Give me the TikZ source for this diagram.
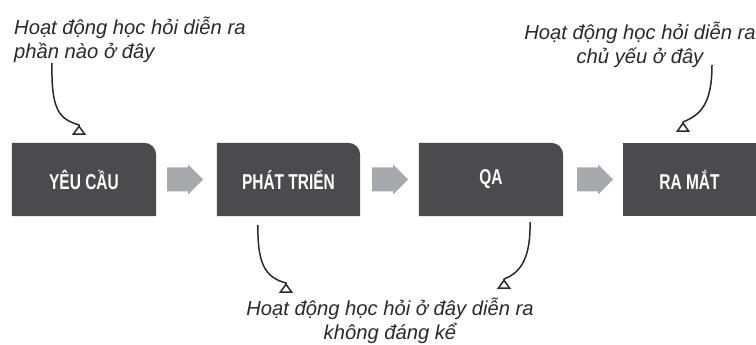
\documentclass[tikz,border=0pt]{standalone}
\usepackage{fontspec}
\setmainfont{Liberation Sans}
\newfontfamily\boxfont[FakeStretch=0.72]{Liberation Sans}
\usetikzlibrary{arrows.meta,backgrounds}
\definecolor{boxgray}{HTML}{4B4B4D}
\definecolor{arrgray}{HTML}{A7A9AC}
\definecolor{txtgray}{HTML}{2A2A2A}
\tikzset{
  stage/.style={inner sep=0pt, minimum height=73pt, text=white,
    font=\boxfont\bfseries\fontsize{21.5}{24}\selectfont},
  note/.style={inner sep=0pt, text=txtgray,
    font=\itshape\fontsize{20.2}{24}\selectfont},
  curv/.style={draw=txtgray, line width=1.5pt,
    -{Triangle[open,reversed,length=10pt,width=14pt,line width=1.5pt]}},
  garrow/.pic={\fill[arrgray] (0,-12) -- (21,-12) -- (21,-15) -- (36,0)
     -- (21,15) -- (21,12) -- (0,12) -- cycle;}
}
\begin{document}
\begin{tikzpicture}[x=1pt,y=1pt]
\useasboundingbox (0,0) rectangle (756,345);
% stages
\node[stage, minimum width=144pt] (b1) at (84,165.5) {YÊU CẦU};
\node[stage, minimum width=143pt] (b2) at (288.5,165.5) {PHÁT TRIỂN};
\node[stage, minimum width=144pt] (b3) at (491,165.5) {QA};
\node[stage, minimum width=133pt] (b4) at (689.5,165.5) {RA MẮT};
\begin{scope}[on background layer]
  \foreach \b in {b1,b2,b3}{
    \fill[boxgray] (\b.south west) -- (\b.north west) -- ([xshift=-12pt]\b.north east)
      arc[start angle=90,end angle=0,radius=12pt] -- (\b.south east) -- cycle;
  }
  \fill[boxgray] (b4.south west) rectangle (b4.north east);
\end{scope}
% block arrows
\path ([xshift=11pt]b1.east) pic {garrow};
\path ([xshift=12pt]b2.east) pic {garrow};
\path ([xshift=14pt]b3.east) pic {garrow};
% notes
\node[note, anchor=north west, align=left] (t1) at (14,328.5)
  {Hoạt động học hỏi diễn ra\\phần nào ở đây};
\node[note, anchor=north, align=center] (t2) at (640,323.5)
  {Hoạt động học hỏi diễn ra\\chủ yếu ở đây};
\node[note, anchor=north, align=center] (t3) at (390,47.5)
  {Hoạt động học hỏi ở đây diễn ra\\không đáng kể};
% connector ends
\coordinate (s1) at (52,282);
\coordinate (e1) at (79,210);
\coordinate (s2) at (712,280);
\coordinate (e2) at (683,213);
\coordinate (s3) at (258,120);
\coordinate (e3) at (286,52);
\coordinate (s4) at (530,123);
\coordinate (e4) at (504,56);
\draw[curv] (s1) .. controls (51,233) and (60,226) .. ([yshift=10pt]e1) -- (e1);
\draw[curv] (s2) .. controls (712,240) and (700,230) .. ([yshift=10pt]e2) -- (e2);
\draw[curv] (s3) .. controls (257,77) and (268,67) .. ([yshift=10pt]e3) -- (e3);
\draw[curv] (s4) .. controls (531,82) and (517,71) .. ([yshift=10pt]e4) -- (e4);
\end{tikzpicture}
\end{document}
